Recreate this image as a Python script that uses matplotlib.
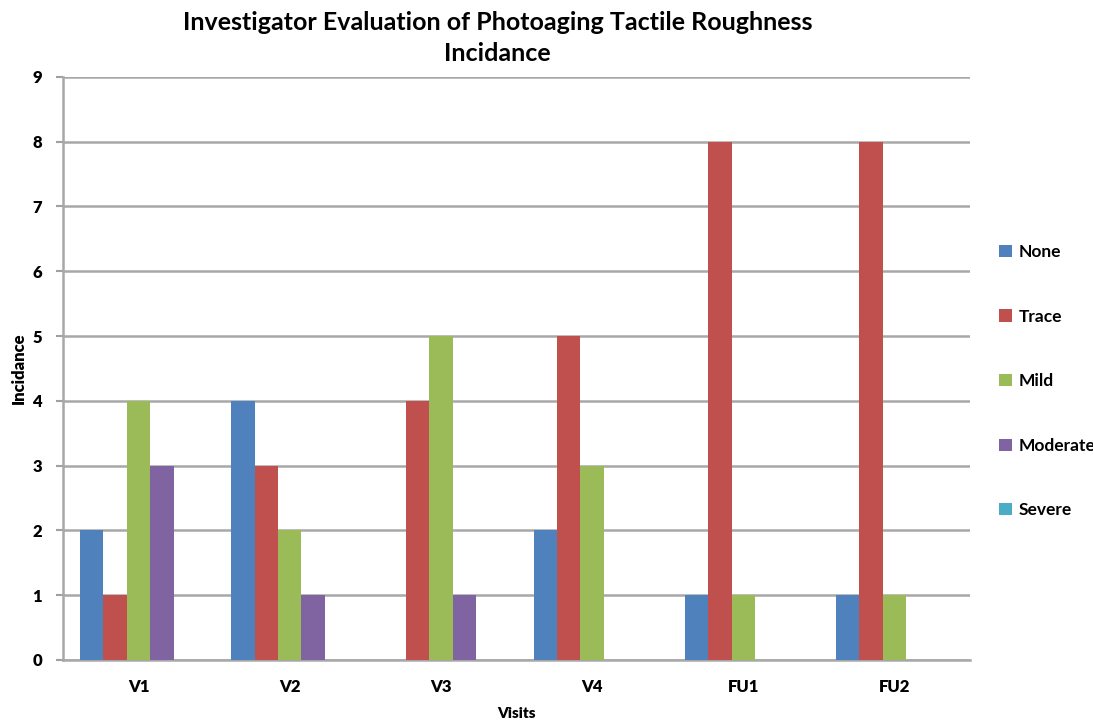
import matplotlib.pyplot as plt
import numpy as np

visits = ['V1', 'V2', 'V3', 'V4', 'FU1', 'FU2']
none = [2, 4, 0, 2, 1, 1]
trace = [1, 3, 4, 5, 8, 8]
mild = [4, 2, 5, 3, 1, 1]
moderate = [3, 1, 1, 0, 0, 0]
severe = [0, 0, 0, 0, 0, 0]

series = [('None', none, '#4F81BD'), ('Trace', trace, '#C0504D'),
          ('Mild', mild, '#9BBB59'), ('Moderate', moderate, '#8064A2'),
          ('Severe', severe, '#4BACC6')]

plt.rcParams['font.family'] = ['Lato', 'DejaVu Sans']
fig = plt.figure(figsize=(10.93, 7.27), dpi=100)
ax = fig.add_axes([0.0576, 0.0922, 0.83, 0.802])

x = np.arange(len(visits))
w = 0.155
for i, (name, vals, col) in enumerate(series):
    ax.bar(x + (i - 2) * w, vals, w, color=col, label=name, zorder=3)

ax.set_xlim(-0.5, len(visits) - 0.5)
ax.set_ylim(0, 9)
ax.set_yticks(range(10))
ax.set_xticks(x)
ax.set_xticklabels(visits, fontsize=12, fontweight='heavy')
for t in ax.get_yticklabels():
    t.set_fontsize(12)
    t.set_fontweight('heavy')
ax.tick_params(axis='x', length=0, pad=14)
ax.tick_params(axis='y', length=5, color='#a0a0a0', width=1.5, pad=10)
ax.grid(axis='y', color='#a8a8a8', linewidth=1.8, zorder=0)
for s in ['top', 'right']:
    ax.spines[s].set_visible(False)
for s in ['left', 'bottom']:
    ax.spines[s].set_color('#a8a8a8')
    ax.spines[s].set_linewidth(1.8)

ax.set_xlabel('Visits', fontsize=11, fontweight='heavy', labelpad=8)
ax.set_ylabel('Incidance', fontsize=12, fontweight='heavy', labelpad=4)
fig.suptitle('Investigator Evaluation of Photoaging Tactile Roughness\nIncidance',
             x=0.455, y=0.985, fontsize=18, fontweight='bold', linespacing=1.45)

# legend runs off the right edge like the original
fig.legend(loc='upper left', bbox_to_anchor=(0.908, 0.674), frameon=False,
           labelspacing=2.8, handlelength=0.7, handleheight=0.7,
           handletextpad=0.4, borderaxespad=0, prop={'weight': 'bold', 'size': 12.5})

fig.savefig('out.png', dpi=100)
